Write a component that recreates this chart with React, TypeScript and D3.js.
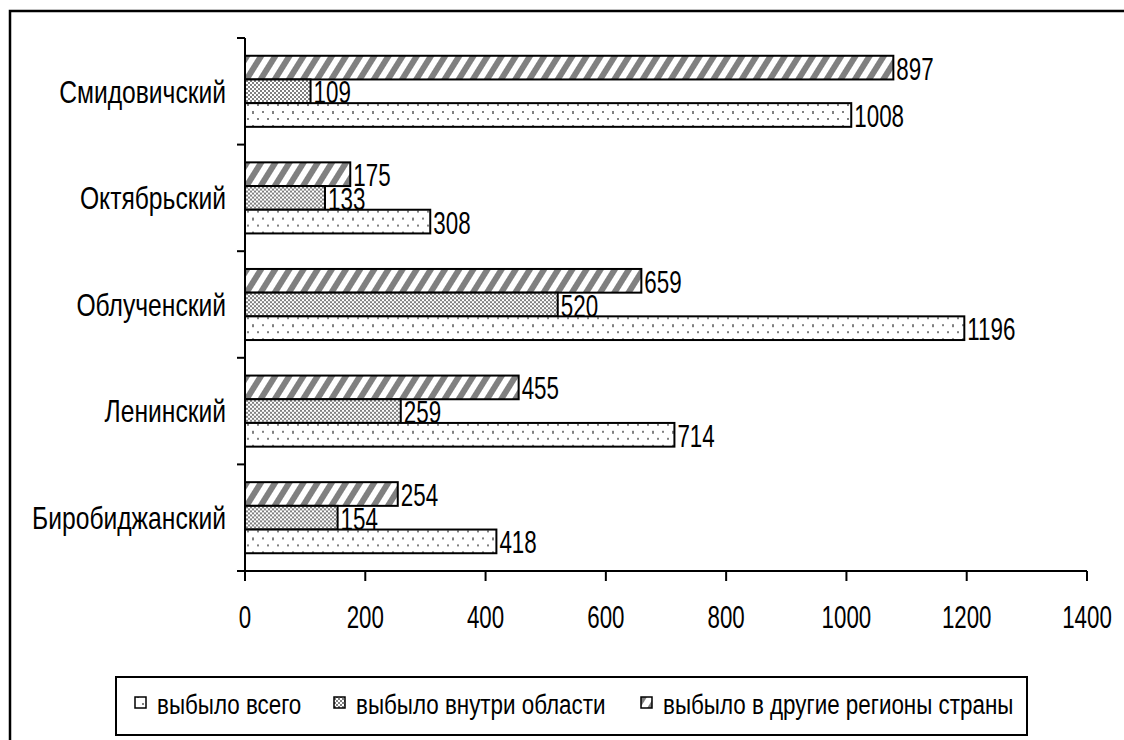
import React from "react";
import * as d3 from "d3";

const districts = ["Смидовичский", "Октябрьский", "Облученский", "Ленинский", "Биробиджанский"];
const seriesNames = ["выбыло в другие регионы страны", "выбыло внутри области", "выбыло всего"];
// bar lengths as drawn in the picture (the top striped bar is drawn longer than its label says)
const otherRegions = [1078, 175, 659, 455, 254];
const otherRegionsLabels = [897, 175, 659, 455, 254];
const insideRegion = [109, 133, 520, 259, 154];
const total = [1008, 308, 1196, 714, 418];
const xTicks = [0, 200, 400, 600, 800, 1000, 1200, 1400];
const legendOrder = ["выбыло всего", "выбыло внутри области", "выбыло в другие регионы страны"];

const fills: Record<string, string> = {
  "выбыло в другие регионы страны": "url(#stripes)",
  "выбыло внутри области": "url(#checker)",
  "выбыло всего": "url(#dots)",
};

const FONT = "'Liberation Sans', Arial, sans-serif";

const Txt = ({ x, y, size, sx, anchor, children }: any) => (
  <text
    transform={`translate(${x},${y}) scale(${sx},1)`}
    fontFamily={FONT}
    fontSize={size}
    textAnchor={anchor || "start"}
    dominantBaseline="central"
    fill="#000"
  >
    {children}
  </text>
);

const App = () => {
  const x = d3.scaleLinear().domain([0, 1400]).range([245, 1087]);
  const y = d3.scaleBand().domain(districts).range([38, 571]);
  const inner = d3
    .scaleBand()
    .domain(seriesNames)
    .range([0, y.bandwidth()])
    .paddingInner(0)
    .paddingOuter(0.75);

  const rows = districts.map((d, i) => ({
    district: d,
    values: [otherRegions[i], insideRegion[i], total[i]],
    labels: [otherRegionsLabels[i], insideRegion[i], total[i]],
  }));

  return (
    <svg width={1124} height={740} style={{ position: "absolute", left: 0, top: 0 }}>
      <defs>
        <pattern id="stripes" width={12} height={12} patternUnits="userSpaceOnUse" patternTransform="rotate(32)">
          <rect width={12} height={12} fill="#fff" />
          <rect width={6} height={12} fill="#808080" />
        </pattern>
        <pattern id="checker" width={4} height={4} patternUnits="userSpaceOnUse">
          <rect width={4} height={4} fill="#fff" />
          <rect width={2} height={2} fill="#808080" />
          <rect x={2} y={2} width={2} height={2} fill="#808080" />
        </pattern>
        <pattern id="dots" width={20} height={14} patternUnits="userSpaceOnUse">
          <rect width={20} height={14} fill="#fff" />
          <rect x={2} y={3} width={2} height={2} fill="#808080" />
          <rect x={12} y={3} width={2} height={3} fill="#808080" />
          <rect x={7} y={10} width={2} height={2} fill="#808080" />
          <rect x={17} y={10} width={2} height={2} fill="#808080" />
        </pattern>
      </defs>

      <rect x={0} y={0} width={1124} height={740} fill="#fff" />
      <rect x={10} y={11} width={1140} height={760} fill="none" stroke="#000" strokeWidth={2.5} />

      {rows.map((r) => (
        <g key={r.district} transform={`translate(0,${y(r.district)})`}>
          {seriesNames.map((s, j) => (
            <g key={s}>
              <rect
                x={x(0)}
                y={inner(s)}
                width={x(r.values[j]) - x(0)}
                height={inner.bandwidth()}
                fill={fills[s]}
                stroke="#000"
                strokeWidth={2}
              />
              <Txt x={x(r.values[j]) + 3} y={(inner(s) || 0) + inner.bandwidth() / 2 + 1} size={32} sx={0.7}>
                {r.labels[j]}
              </Txt>
            </g>
          ))}
          <Txt x={226} y={y.bandwidth() / 2} size={32} sx={0.77} anchor="end">
            {r.district}
          </Txt>
        </g>
      ))}

      {/* y axis */}
      <line x1={x(0)} x2={x(0)} y1={38} y2={581} stroke="#000" strokeWidth={2} />
      {[...districts.map((d) => y(d) || 0), 571].map((t, i) => (
        <line key={i} x1={237} x2={x(0)} y1={t} y2={t} stroke="#000" strokeWidth={2} />
      ))}

      {/* x axis */}
      <line x1={x(0)} x2={x(1400)} y1={571} y2={571} stroke="#000" strokeWidth={2} />
      {xTicks.map((t) => (
        <g key={t}>
          <line x1={x(t)} x2={x(t)} y1={571} y2={581} stroke="#000" strokeWidth={2} />
          <Txt x={x(t)} y={618} size={31} sx={0.72} anchor="middle">
            {t}
          </Txt>
        </g>
      ))}

      {/* legend */}
      <rect x={116} y={677} width={911} height={58} fill="#fff" stroke="#000" strokeWidth={2} />
      {legendOrder.map((s, i) => {
        const lx = [135, 334, 641][i];
        return (
          <g key={s}>
            <rect x={lx} y={697} width={11} height={11} fill={fills[s]} stroke="#000" strokeWidth={1.5} />
            <Txt x={lx + 22} y={704} size={28} sx={0.8}>
              {s}
            </Txt>
          </g>
        );
      })}
    </svg>
  );
};

export default App;
